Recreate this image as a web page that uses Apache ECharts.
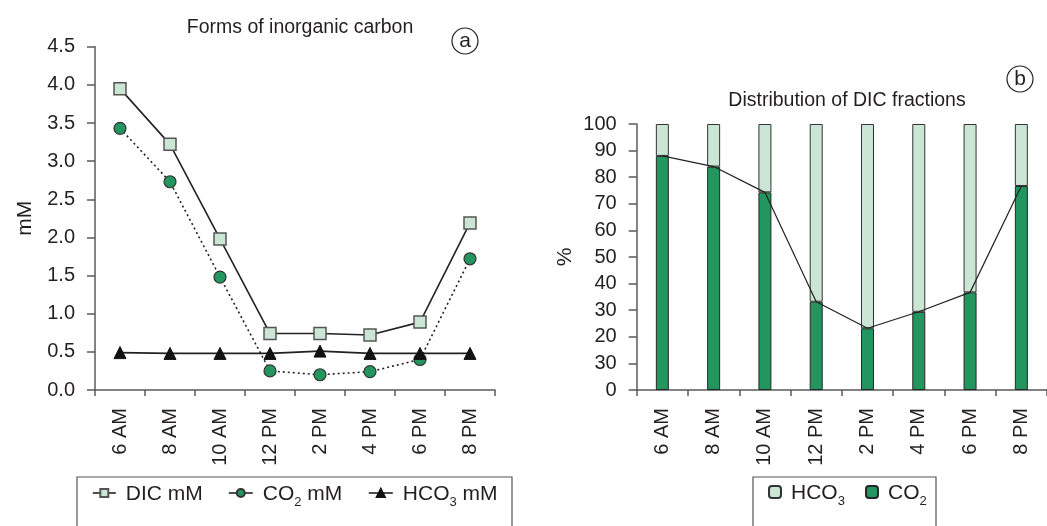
<!DOCTYPE html>
<html>
<head>
<meta charset="utf-8">
<script src="https://cdn.jsdelivr.net/npm/echarts@6/dist/echarts.min.js"></script>
<style>
html,body{margin:0;padding:0;background:#fff;}
#chart{width:1047px;height:526px;}
</style>
</head>
<body>
<div id="chart"></div>
<script>
const categories = ['6 AM','8 AM','10 AM','12 PM','2 PM','4 PM','6 PM','8 PM'];
const dicMM  = [3.95, 3.22, 1.98, 0.74, 0.74, 0.72, 0.89, 2.19];
const co2MM  = [3.43, 2.73, 1.48, 0.25, 0.20, 0.24, 0.40, 1.72];
const hco3MM = [0.49, 0.48, 0.48, 0.48, 0.51, 0.48, 0.48, 0.48];
const co2Pct  = [88, 84, 74.3, 33.2, 23.2, 29.4, 36.7, 76.7];
const hco3Pct = [12, 16, 25.7, 66.8, 76.8, 70.6, 63.3, 23.3];
const leftYTickLabels  = ['0.0','0.5','1.0','1.5','2.0','2.5','3.0','3.5','4.0','4.5'];
const rightYTickLabels = ['0','30','20','30','40','50','60','70','80','90','100'];
const titleLeft = 'Forms of inorganic carbon';
const titleRight = 'Distribution of DIC fractions';

const FONT = '"Liberation Sans", Arial, sans-serif';
const TXT = '#231f20';
const AX = '#5a5a5a';
const LIGHT = '#cce6d6';
const DARK = '#23965f';

const richSub = {
  base: {fontFamily: FONT, fontSize: 21, color: TXT, lineHeight: 24, verticalAlign: 'bottom'},
  pre: {fontFamily: FONT, fontSize: 21, color: TXT, lineHeight: 24, verticalAlign: 'bottom', padding: [0,0,0,5]},
  sub: {fontFamily: FONT, fontSize: 13, color: TXT, lineHeight: 24, verticalAlign: 'bottom', padding: [0,0,-4,0]}
};
function fmtName(n){
  const m = n.match(/^(.*?)(\d)(.*)$/);
  if (n.indexOf('CO') >= 0 && m) return '{pre|' + m[1] + '}{sub|' + m[2] + '}{base|' + m[3] + '}';
  return '{pre|' + n + '}';
}
function legendItem(name, left, top, w, h){
  return {data:[name], left: left, top: top, itemWidth: w, itemHeight: h, padding: 0,
    lineStyle: {type: 'solid', width: 1.6},
    formatter: fmtName, textStyle: {rich: richSub, fontFamily: FONT, fontSize: 21, color: TXT}};
}

const axisLabelStyle = {fontFamily: FONT, fontSize: 20, color: TXT};

const chart = echarts.init(document.getElementById('chart'), null, {renderer: 'canvas'});
chart.setOption({
  animation: false,
  backgroundColor: '#fff',
  grid: [
    {left: 95, top: 46.7, width: 400, height: 343.3},
    {left: 636.7, top: 124, width: 413, height: 266}
  ],
  title: [
    {text: titleLeft, left: 295, top: 13, textAlign: 'center',
      textStyle: {fontFamily: FONT, fontSize: 19.5, fontWeight: 'normal', color: TXT}},
    {text: titleRight, left: 842, top: 86, textAlign: 'center',
      textStyle: {fontFamily: FONT, fontSize: 19.5, fontWeight: 'normal', color: TXT}}
  ],
  legend: [
    legendItem('DIC mM', 92, 484, 23, 10),
    legendItem('CO2 mM', 228, 484, 24, 10),
    legendItem('HCO3 mM', 368, 484, 24, 10),
    legendItem('HCO3', 768, 483, 12, 12),
    legendItem('CO2', 865, 483, 12, 12)
  ],
  xAxis: [
    {type: 'category', gridIndex: 0, data: categories, boundaryGap: true,
      axisLine: {lineStyle: {color: AX, width: 1.5}},
      axisTick: {show: true, length: 6, lineStyle: {color: AX, width: 1.5}},
      axisLabel: Object.assign({rotate: 90, margin: 18, interval: 0}, axisLabelStyle)},
    {type: 'category', gridIndex: 1, data: categories, boundaryGap: true,
      axisLine: {lineStyle: {color: AX, width: 1.5}},
      axisTick: {show: true, length: 6, lineStyle: {color: AX, width: 1.5}},
      axisLabel: Object.assign({rotate: 90, margin: 18, interval: 0}, axisLabelStyle)}
  ],
  yAxis: [
    {type: 'value', gridIndex: 0, min: 0, max: 4.5, interval: 0.5,
      name: 'mM', nameLocation: 'middle', nameGap: 59, nameRotate: 90,
      nameTextStyle: {fontFamily: FONT, fontSize: 21, color: TXT},
      splitLine: {show: false},
      axisLine: {show: true, lineStyle: {color: AX, width: 1.5}},
      axisTick: {show: true, length: 8, lineStyle: {color: AX, width: 1.5}},
      axisLabel: Object.assign({margin: 20, formatter: function(v){ return leftYTickLabels[Math.round(v/0.5)]; }}, axisLabelStyle)},
    {type: 'value', gridIndex: 1, min: 0, max: 100, interval: 10,
      name: '%', nameLocation: 'middle', nameGap: 61, nameRotate: 90,
      nameTextStyle: {fontFamily: FONT, fontSize: 21, color: TXT},
      splitLine: {show: false},
      axisLine: {show: true, lineStyle: {color: AX, width: 1.5}},
      axisTick: {show: true, length: 8, lineStyle: {color: AX, width: 1.5}},
      axisLabel: Object.assign({margin: 20, formatter: function(v){ return rightYTickLabels[Math.round(v/10)]; }}, axisLabelStyle)}
  ],
  series: [
    {name: 'DIC mM', type: 'line', xAxisIndex: 0, yAxisIndex: 0, data: dicMM,
      symbol: 'rect', symbolSize: 12,
      lineStyle: {color: '#222', width: 1.6},
      itemStyle: {color: LIGHT, borderColor: '#555', borderWidth: 1.5}},
    {name: 'CO2 mM', type: 'line', xAxisIndex: 0, yAxisIndex: 0, data: co2MM,
      symbol: 'circle', symbolSize: 12,
      lineStyle: {color: '#222', width: 1.6, type: [2, 3]},
      itemStyle: {color: DARK, borderColor: '#333', borderWidth: 1.2}},
    {name: 'HCO3 mM', type: 'line', xAxisIndex: 0, yAxisIndex: 0, data: hco3MM,
      symbol: 'triangle', symbolSize: 12,
      lineStyle: {color: '#222', width: 1.6},
      itemStyle: {color: '#111', borderColor: '#111', borderWidth: 1}},
    {name: 'CO2', type: 'bar', xAxisIndex: 1, yAxisIndex: 1, data: co2Pct, stack: 'dic',
      barWidth: 13, itemStyle: {color: DARK, borderColor: '#262626', borderWidth: 1}},
    {name: 'HCO3', type: 'bar', xAxisIndex: 1, yAxisIndex: 1, data: hco3Pct, stack: 'dic',
      barWidth: 13, itemStyle: {color: LIGHT, borderColor: '#333', borderWidth: 1}},
    {name: 'CO2 trend', type: 'line', xAxisIndex: 1, yAxisIndex: 1, data: co2Pct,
      symbol: 'none', z: 5, lineStyle: {color: '#222', width: 1.2}, itemStyle: {color: '#222'}}
  ],
  graphic: [
    {type: 'rect', shape: {x: 77, y: 477, width: 435, height: 80}, style: {fill: 'none', stroke: '#555', lineWidth: 1.2}},
    {type: 'rect', shape: {x: 753, y: 477, width: 183, height: 80}, style: {fill: 'none', stroke: '#555', lineWidth: 1.2}},
    {type: 'circle', shape: {cx: 465, cy: 41, r: 13}, style: {fill: 'none', stroke: '#222', lineWidth: 1.2}},
    {type: 'text', x: 465, y: 41, style: {text: 'a', fontFamily: FONT, fontSize: 21, fill: TXT, align: 'center', verticalAlign: 'middle'}},
    {type: 'circle', shape: {cx: 1020, cy: 79, r: 13}, style: {fill: 'none', stroke: '#222', lineWidth: 1.2}},
    {type: 'text', x: 1020, y: 79, style: {text: 'b', fontFamily: FONT, fontSize: 21, fill: TXT, align: 'center', verticalAlign: 'middle'}}
  ]
});
</script>
</body>
</html>
